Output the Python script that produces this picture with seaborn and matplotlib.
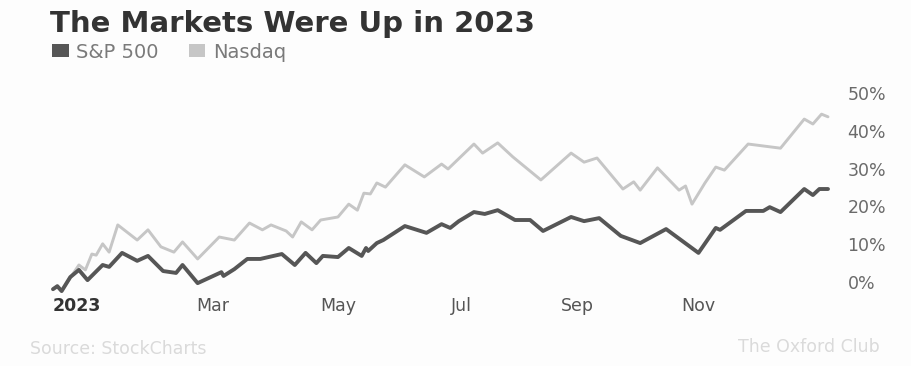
import matplotlib
matplotlib.use("Agg")
import matplotlib.pyplot as plt
from matplotlib.patches import Patch
import seaborn as sns
import pandas as pd

# ---- data (day of year, cumulative % change) ----
sp_days = [2, 4, 6, 10, 14, 18, 25, 28, 34, 41, 46, 53, 59, 62, 69, 80, 81, 86, 92, 98,
           108, 114, 119, 124, 127, 134, 139, 145, 147, 148, 152, 155, 165, 175, 182, 186,
           190, 197, 202, 208, 216, 223, 229, 242, 248, 255, 265, 274, 286, 301, 309, 311,
           323, 331, 334, 339, 350, 354, 357, 361]
sp_vals = [-1.9, -1.1, -2.4, 1.3, 3.2, 0.5, 4.5, 4.0, 7.7, 5.6, 6.9, 2.9, 2.4, 4.5, -0.3,
           2.6, 1.6, 3.4, 6.1, 6.1, 7.4, 4.5, 7.7, 5.0, 6.9, 6.6, 9.0, 6.9, 9.0, 8.2, 10.3,
           11.1, 14.8, 13.0, 15.3, 14.3, 16.1, 18.5, 18.0, 19.0, 16.4, 16.4, 13.5, 17.2,
           16.1, 16.9, 12.2, 10.3, 14.0, 7.7, 14.3, 13.8, 18.8, 18.8, 19.8, 18.5, 24.6,
           23.0, 24.6, 24.6]

nq_days = [2, 4, 6, 10, 14, 17, 20, 22, 25, 28, 32, 41, 46, 52, 58, 62, 69, 79, 86, 93,
           99, 103, 110, 113, 117, 122, 126, 134, 139, 143, 146, 149, 152, 156, 165, 174,
           182, 185, 197, 201, 208, 215, 228, 242, 248, 254, 266, 271, 274, 282, 292, 295,
           298, 304, 309, 313, 324, 339, 350, 354, 358, 361]
nq_vals = [-1.9, -1.1, -2.4, 1.1, 4.5, 3.2, 7.4, 7.1, 10.1, 7.9, 15.1, 11.1, 13.8, 9.3,
           7.9, 10.6, 6.1, 11.9, 11.1, 15.6, 13.8, 15.1, 13.5, 11.9, 15.9, 13.8, 16.4, 17.2,
           20.6, 19.0, 23.5, 23.3, 26.2, 25.1, 31.0, 27.8, 31.2, 29.9, 36.5, 34.1, 36.8,
           33.1, 27.0, 34.1, 31.7, 32.8, 24.6, 26.5, 24.3, 30.2, 24.3, 25.4, 20.6, 26.2,
           30.4, 29.6, 36.5, 35.4, 43.1, 41.8, 44.4, 43.7]

series_names = ["S&P 500", "Nasdaq"]
tick_days = [2, 76, 134, 191, 245, 301]
tick_labels = ["2023", "Mar", "May", "Jul", "Sep", "Nov"]
y_ticks = [0, 10, 20, 30, 40, 50]
y_tick_labels = ["0%", "10%", "20%", "30%", "40%", "50%"]

# ---- build long table ----
df = pd.concat([
    pd.DataFrame({"day": sp_days, "pct": sp_vals, "index": series_names[0]}),
    pd.DataFrame({"day": nq_days, "pct": nq_vals, "index": series_names[1]}),
])

sns.set_theme(style="white")
plt.rcParams["font.family"] = ["DejaVu Sans"]

W, H = 911, 366
fig = plt.figure(figsize=(W / 100, H / 100), dpi=100)
fig.patch.set_facecolor("#fdfdfd")

left, right = 53 / W, 828 / W
bottom, top = (H - 282) / H, (H - 93) / H
ax = fig.add_axes([left, bottom, right - left, top - bottom])
ax.set_facecolor("none")

colors = {"S&P 500": "#565656", "Nasdaq": "#c6c6c6"}
sizes = {"S&P 500": 2.8, "Nasdaq": 2.1}

# draw Nasdaq first so S&P sits on top where they overlap
for name in ["Nasdaq", "S&P 500"]:
    sns.lineplot(data=df[df["index"] == name], x="day", y="pct", ax=ax,
                 color=colors[name], linewidth=sizes[name], clip_on=False,
                 legend=False)

ax.set_xlim(2, 361)
ax.set_ylim(0, 50)
for s in ax.spines.values():
    s.set_visible(False)
ax.set_xlabel("")
ax.set_ylabel("")

ax.yaxis.tick_right()
ax.set_yticks(y_ticks)
ax.set_yticklabels(y_tick_labels, fontsize=12.5, color="#6a6a6a")
ax.tick_params(axis="y", length=0, pad=14)

ax.set_xticks(tick_days)
ax.set_xticklabels(tick_labels, fontsize=12.5, color="#555555")
ax.tick_params(axis="x", length=0, pad=11)
xl = ax.get_xticklabels()
xl[0].set_ha("left")
xl[0].set_fontweight("bold")
xl[0].set_color("#333333")

# title
fig.text(50 / W, 1 - 32 / H, "The Markets Were Up in 2023", fontsize=21,
         fontweight="bold", color="#333333", ha="left", va="baseline")

# legend
handles = [Patch(facecolor=colors["S&P 500"], edgecolor="none"),
           Patch(facecolor=colors["Nasdaq"], edgecolor="none")]
fig.legend(handles, series_names, loc="center left",
           bbox_to_anchor=(52 / W, 1 - 52 / H), ncol=2, frameon=False,
           fontsize=14, labelcolor="#7a7a7a", handlelength=0.85,
           handleheight=0.6, handletextpad=0.4, columnspacing=1.55,
           borderaxespad=0, borderpad=0)

# footer
fig.text(30 / W, 1 - 349 / H, "Source: StockCharts", fontsize=12.5,
         color="#dadada", ha="left", va="center")
fig.text(880 / W, 1 - 347 / H, "The Oxford Club", fontsize=12.5,
         color="#dadada", ha="right", va="center")

fig.savefig("out.png", dpi=100, facecolor=fig.get_facecolor())
